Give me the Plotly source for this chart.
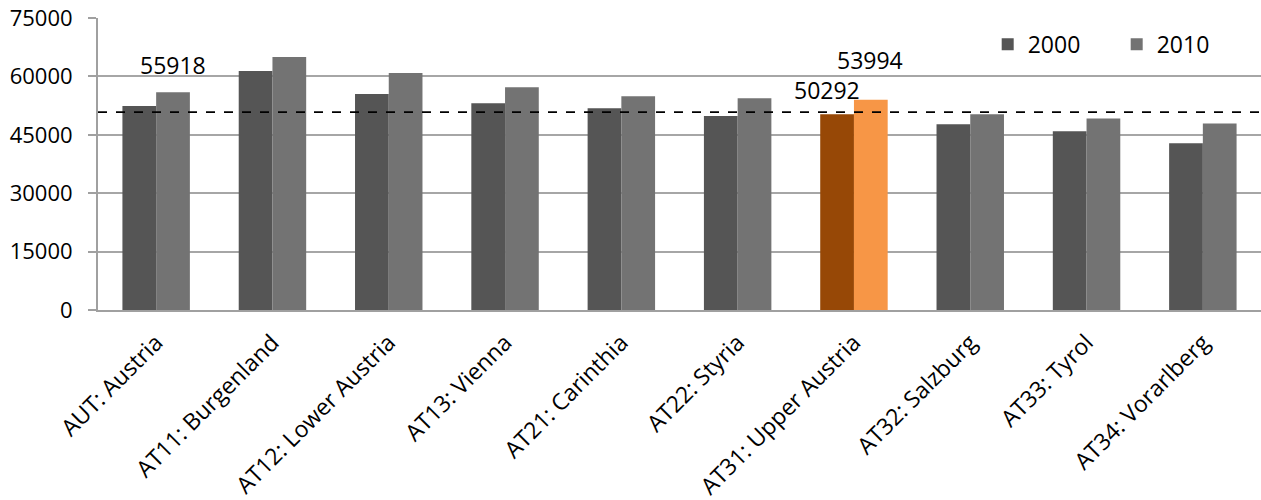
import plotly.graph_objects as go

categories = ["AUT: Austria", "AT11: Burgenland", "AT12: Lower Austria", "AT13: Vienna",
              "AT21: Carinthia", "AT22: Styria", "AT31: Upper Austria", "AT32: Salzburg",
              "AT33: Tyrol", "AT34: Vorarlberg"]
values_2000 = [52400, 61400, 55500, 53100, 51800, 49800, 50292, 47700, 45900, 42800]
values_2010 = [55918, 65000, 60900, 57200, 54900, 54400, 53994, 50300, 49200, 47900]
reference_level = 50800
highlight = "AT31: Upper Austria"
y_ticks = [0, 15000, 30000, 45000, 60000, 75000]

FONT = "Open Sans"
c2000 = ["#974806" if c == highlight else "#555555" for c in categories]
c2010 = ["#F79646" if c == highlight else "#737373" for c in categories]

fig = go.Figure()
fig.add_trace(go.Bar(name="2000", x=categories, y=values_2000,
                     marker=dict(color=c2000, line=dict(width=0))))
fig.add_trace(go.Bar(name="2010", x=categories, y=values_2010,
                     marker=dict(color=c2010, line=dict(width=0))))

fig.add_shape(type="line", xref="paper", yref="y", x0=0, x1=1,
              y0=reference_level, y1=reference_level,
              line=dict(color="black", width=1.8, dash="dash"))

labels = [
    (categories[0], values_2010[0], 17, 27),
    (highlight, values_2000[6], -27, 24),
    (highlight, values_2010[6], 16, 40),
]
for cat, val, xs, ys in labels:
    fig.add_annotation(x=cat, y=val, text=str(val), showarrow=False,
                       xshift=xs, yshift=ys, yanchor="middle",
                       font=dict(family=FONT, size=23, color="black"))

fig.update_layout(
    width=1261, height=500,
    margin=dict(l=98, r=0, t=18, b=190, autoexpand=False),
    paper_bgcolor="white", plot_bgcolor="white",
    barmode="group", bargap=0.42, bargroupgap=0,
    font=dict(family=FONT, size=22, color="black"),
    showlegend=True,
    legend=dict(orientation="h", x=0.765, xanchor="left", y=0.91, yanchor="middle",
                font=dict(family=FONT, size=23), bgcolor="rgba(0,0,0,0)",
                entrywidth=84, entrywidthmode="pixels", itemwidth=30,
                traceorder="normal"),
)
fig.update_xaxes(range=[-0.5, 9.5], tickangle=-45, showgrid=False, automargin=False,
                 showline=True, linecolor="#a0a0a0", linewidth=2,
                 tickfont=dict(family=FONT, size=23), ticks="", ticklabelstandoff=8)
fig.update_yaxes(range=[0, 75000], tickvals=y_ticks, ticktext=[str(v) for v in y_ticks],
                 showgrid=True, gridcolor="#a6a6a6", gridwidth=2, automargin=False,
                 showline=True, linecolor="#a0a0a0", linewidth=2,
                 ticks="outside", ticklen=8, tickcolor="#a0a0a0", tickwidth=2,
                 ticklabelstandoff=11, ticklabeloverflow="allow", zeroline=False,
                 tickfont=dict(family=FONT, size=22))

fig.write_html("out.html", config={"displayModeBar": False},
               post_script="document.body.style.margin='0px';")
